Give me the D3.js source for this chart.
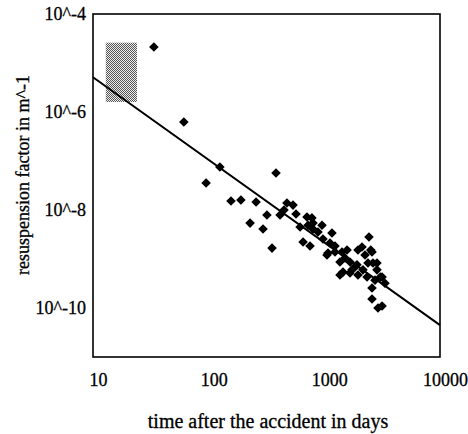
<!DOCTYPE html>
<html>
<head>
<meta charset="utf-8">
<script src="https://cdn.jsdelivr.net/npm/d3@7"></script>
<style>
  html, body { margin: 0; padding: 0; background: #fff; }
  svg { display: block; }
  text { font-family: "Liberation Serif", "Times New Roman", serif; fill: #000; stroke: #000; stroke-width: 0.3px; }
</style>
</head>
<body>
<svg id="chart" width="468" height="434"></svg>
<script>
// Measured resuspension factors (m^-1) against days after the accident
const days = [
  33.6, 61, 125, 95, 382, 156, 190, 257, 319, 228, 295, 353, 414, 448, 475, 536,
  569, 781, 617, 723, 955, 798, 1164, 655, 752, 973, 1119, 1236, 1076, 1422, 1571,
  1510, 1365, 1667, 1450, 1733, 1915, 2432, 2117, 2248, 2583, 1841, 2158, 2384,
  2634, 2852, 3157, 2340, 2742, 3343, 2583, 2583, 2911, 3157, 1667, 1954,
  708, 798, 1054, 1236, 1365, 1954, 2520, 2852, 3050, 881
];
const factor = [
  2.12e-5, 6.25e-7, 7.55e-8, 3.56e-8, 5.7e-8, 1.53e-8, 1.6e-8, 1.46e-8, 7.9e-9,
  5.4e-9, 4.1e-9, 1.67e-9, 7.9e-9, 1.0e-8, 1.39e-8, 1.26e-8,
  8.3e-9, 6.9e-9, 4.5e-9, 4.9e-9, 4.9e-9, 4.1e-9, 3.4e-9, 2.22e-9, 1.84e-9,
  2.56e-9, 2.12e-9, 1.84e-9, 1.32e-9, 1.39e-9, 1.53e-9,
  1.05e-9, 8.7e-10, 8.7e-10, 5.4e-10, 6.0e-10, 7.6e-10, 2.81e-9, 1.76e-9, 1.21e-9,
  1.39e-9, 6.9e-10, 6.0e-10, 8.3e-10,
  8.3e-10, 6.0e-10, 4.3e-10, 4.3e-10, 3.7e-10, 3.2e-10, 2.56e-10, 1.53e-10, 1.0e-10,
  1.1e-10, 5.2e-10, 4.7e-10,
  7.2e-9, 5.4e-9, 1.21e-9, 1.39e-9, 4.7e-10, 1.53e-9, 1.53e-9, 8.3e-10, 4.3e-10, 3.56e-9
];

// Power-law fit, evaluated at the ends of the time axis
const fitDays = [10, 10000];
const fitFactor = [5.13e-6, 4.47e-11];

// Range of early values (shaded box)
const boxDays = [12.9, 24];
const boxFactor = [1.6e-6, 2.6e-5];

// Axes
const xDomain = [10, 10000];
const yDomain = [1e-11, 1e-4];
const xTicks = [10, 100, 1000, 10000];
const xTickLabels = ["10", "100", "1000", "10000"];
const yTicks = [1e-4, 1e-6, 1e-8, 1e-10];
const yTickLabels = ["10^-4", "10^-6", "10^-8", "10^-10"];

const svg = d3.select("#chart");
const x = d3.scaleLog().domain(xDomain).range([93, 440]);
const y = d3.scaleLog().domain(yDomain).range([357, 14]);

// Halftone fill for the shaded box
const defs = svg.append("defs");
const pat = defs.append("pattern")
  .attr("id", "halftone").attr("patternUnits", "userSpaceOnUse")
  .attr("width", 2).attr("height", 2);
pat.append("rect").attr("width", 2).attr("height", 2).attr("fill", "#eee");
pat.append("rect").attr("x", 0).attr("y", 0).attr("width", 1).attr("height", 1).attr("fill", "#555");
pat.append("rect").attr("x", 1).attr("y", 1).attr("width", 1).attr("height", 1).attr("fill", "#555");

svg.append("rect")
  .attr("x", x(boxDays[0])).attr("y", y(boxFactor[1]))
  .attr("width", x(boxDays[1]) - x(boxDays[0]))
  .attr("height", y(boxFactor[0]) - y(boxFactor[1]))
  .attr("fill", "url(#halftone)");

// Fit line
const fit = fitDays.map((d, i) => [d, fitFactor[i]]);
svg.append("path")
  .datum(fit)
  .attr("d", d3.line().x(d => x(d[0])).y(d => y(d[1])))
  .attr("fill", "none").attr("stroke", "#000").attr("stroke-width", 2);

// Data points as diamonds
const diamond = d3.symbol().type(d3.symbolSquare).size(46);
svg.append("g").selectAll("path")
  .data(days.map((d, i) => [d, factor[i]]))
  .join("path")
  .attr("d", diamond)
  .attr("transform", d => `translate(${x(d[0])},${y(d[1])}) rotate(45)`)
  .attr("fill", "#000");

// Frame
svg.append("rect")
  .attr("x", x(xDomain[0])).attr("y", y(yDomain[1]))
  .attr("width", x(xDomain[1]) - x(xDomain[0]))
  .attr("height", y(yDomain[0]) - y(yDomain[1]))
  .attr("fill", "none").attr("stroke", "#000").attr("stroke-width", 1.6);

// Tick labels (no tick marks)
const xAxis = d3.axisBottom(x).tickValues(xTicks).tickSize(0)
  .tickFormat((d, i) => xTickLabels[i]);
const gx = svg.append("g").attr("transform", "translate(0,370)").call(xAxis);
gx.select(".domain").remove();
gx.selectAll("text").attr("font-size", 18)
  .attr("font-family", "Liberation Serif, serif").attr("dy", "0.71em").attr("dx", 5);

const yAxis = d3.axisLeft(y).tickValues(yTicks).tickSize(0)
  .tickFormat((d, i) => yTickLabels[i]);
const gy = svg.append("g").attr("transform", "translate(89,0)").call(yAxis);
gy.select(".domain").remove();
gy.selectAll("text").attr("font-size", 18)
  .attr("font-family", "Liberation Serif, serif").attr("dx", 0);

// Axis titles
svg.append("text")
  .attr("x", 268).attr("y", 428).attr("text-anchor", "middle")
  .attr("font-size", 20)
  .text("time after the accident in days");

svg.append("text")
  .attr("transform", "translate(29,175) rotate(-90)")
  .attr("text-anchor", "middle")
  .attr("font-size", 18)
  .text("resuspension factor in m^-1");
</script>
</body>
</html>
